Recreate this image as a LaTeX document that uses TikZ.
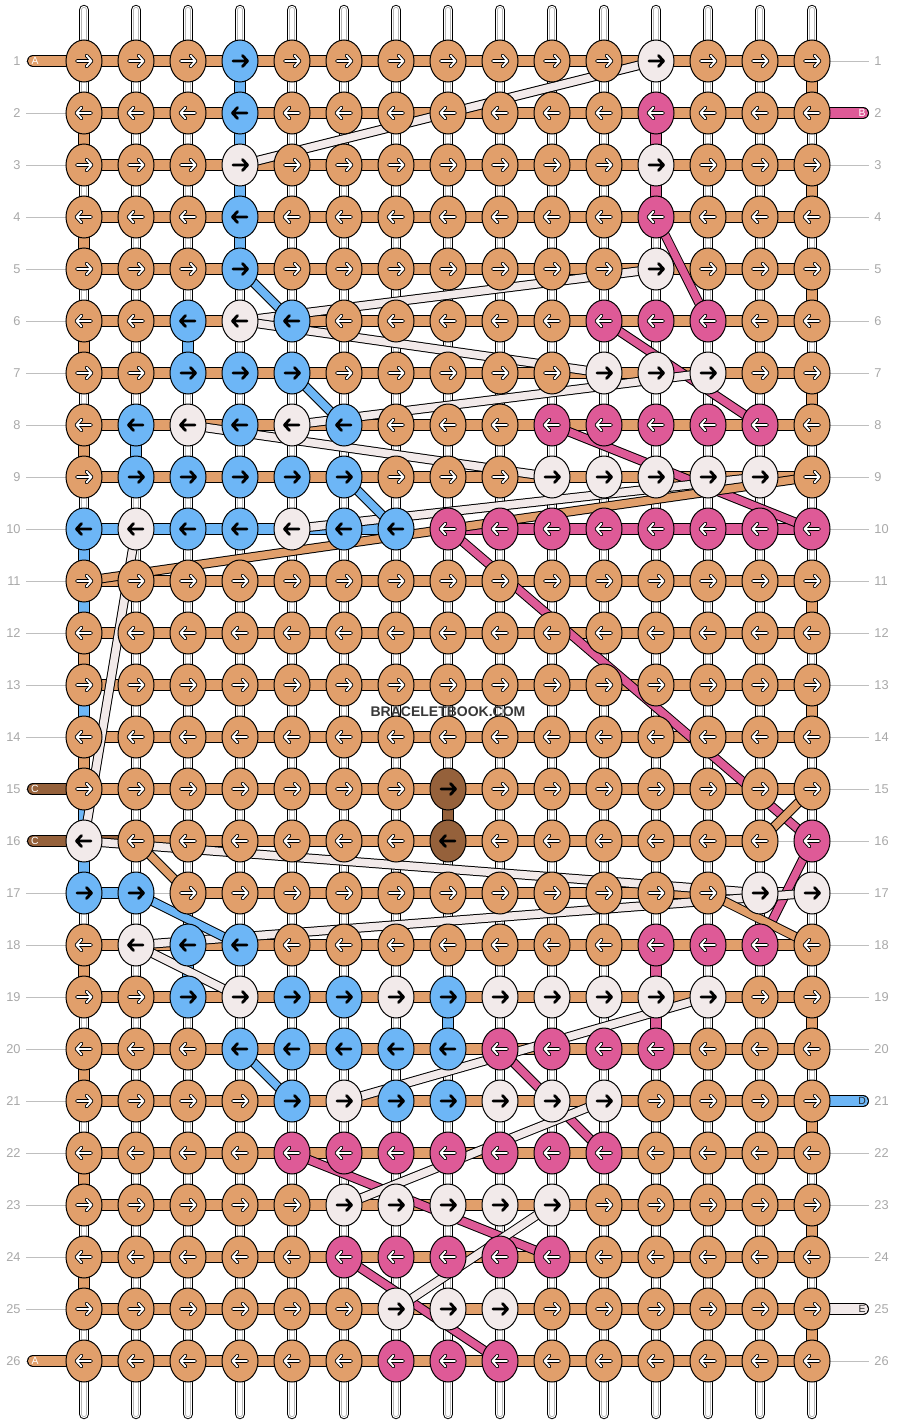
\documentclass[tikz,border=0pt]{standalone}
\usepackage{fontspec}
\setmainfont{Liberation Sans}
\usetikzlibrary{shapes.geometric}

\definecolor{bbOrange}{HTML}{E19F6B}
\definecolor{bbBlue}{HTML}{6DB6F6}
\definecolor{bbWhite}{HTML}{F2EAEA}
\definecolor{bbPink}{HTML}{DE5A97}
\definecolor{bbBrown}{HTML}{95613B}
\definecolor{bbGray}{HTML}{A9A9A9}

\pgfdeclarelayer{paper}
\pgfdeclarelayer{threads}
\pgfsetlayers{paper,threads,main}

% knots that are not orange: \setknots{row}{cols}{code}
\newcommand\setknots[3]{\foreach \cc in {#2}{\expandafter\gdef\csname kc-#1-\cc\endcsname{#3}}}
% row bars (col to col+1) that are not orange, empty = no bar
\newcommand\setbars[3]{\foreach \cc in {#2}{\expandafter\gdef\csname hb-#1-\cc\endcsname{#3}}}

\setknots{1}{4}{b} \setknots{1}{12}{w}
\setknots{2}{4}{b} \setknots{2}{12}{p}
\setknots{3}{4,12}{w}
\setknots{4}{4}{b} \setknots{4}{12}{p}
\setknots{5}{4}{b} \setknots{5}{12}{w}
\setknots{6}{3,5}{b} \setknots{6}{4}{w} \setknots{6}{11,12,13}{p}
\setknots{7}{3,4,5}{b} \setknots{7}{11,12,13}{w}
\setknots{8}{2,4,6}{b} \setknots{8}{3,5}{w} \setknots{8}{10,...,14}{p}
\setknots{9}{2,...,6}{b} \setknots{9}{10,...,14}{w}
\setknots{10}{1,3,4,6,7}{b} \setknots{10}{2,5}{w} \setknots{10}{8,...,15}{p}
\setknots{15}{8}{c}
\setknots{16}{1}{w} \setknots{16}{8}{c} \setknots{16}{15}{p}
\setknots{17}{1,2}{b} \setknots{17}{14,15}{w}
\setknots{18}{2}{w} \setknots{18}{3,4}{b} \setknots{18}{12,13,14}{p}
\setknots{19}{3,5,6,8}{b} \setknots{19}{4,7,9,10,11,12,13}{w}
\setknots{20}{4,...,8}{b} \setknots{20}{9,...,12}{p}
\setknots{21}{5,7,8}{b} \setknots{21}{6,9,10,11}{w}
\setknots{22}{5,...,11}{p}
\setknots{23}{6,...,10}{w}
\setknots{24}{6,...,10}{p}
\setknots{25}{7,8,9}{w}
\setknots{26}{7,8,9}{p}

\setbars{10}{1,...,6}{bbBlue} \setbars{10}{7}{} \setbars{10}{8,...,14}{bbPink}
\setbars{16}{1}{bbBrown} \setbars{16}{14}{}
\setbars{17}{1}{bbBlue} \setbars{17}{2,13}{} \setbars{17}{14}{bbWhite}

\begin{document}
\begin{tikzpicture}[x=0.5pt, y=-0.5pt,
    knot/.style={ellipse, draw=black, line width=0.5pt, minimum width=18pt, minimum height=21pt, inner sep=0pt},
    kn-o/.style={knot, fill=bbOrange},
    kn-b/.style={knot, fill=bbBlue},
    kn-w/.style={knot, fill=bbWhite},
    kn-p/.style={knot, fill=bbPink},
    kn-c/.style={knot, fill=bbBrown},
    ar-o/.style={draw=white, line width=0.95pt, preaction={draw=black, line width=1.8pt, line cap=round, line join=round}},
    ar-p/.style={ar-o},
    ar-b/.style={draw=black, line width=1.4pt},
    ar-w/.style={ar-b},
    ar-c/.style={ar-b},
    thr/.style={draw=black, line width=0.5pt, double=#1, double distance=5pt},
    diag/.style={draw=black, line width=0.5pt, double=#1, double distance=3.8pt},
    warpbar/.style={draw=black, line width=5.2pt, line cap=round,
      postaction={draw=white, line width=4.2pt, line cap=round},
      postaction={draw=black!28, line width=3pt, line cap=round},
      postaction={draw=white, line width=2.2pt, line cap=round}},
    rowlab/.style={text=bbGray, inner sep=0pt, font=\fontsize{6.4}{7}\selectfont},
    endlab/.style={inner sep=0pt, font=\fontsize{5.2}{6}\selectfont},
    guide/.style={draw=black!25, line width=0.5pt}]

  \useasboundingbox (0,0) rectangle (896,1424);

  %knots
  \foreach \r in {1,...,26}{
    \pgfmathtruncatemacro\dir{1-2*mod(\r+1,2)}
    \foreach \c in {1,...,15}{
      \ifcsname kc-\r-\c\endcsname \edef\kc{\csname kc-\r-\c\endcsname}\else \def\kc{o}\fi
      \node[kn-\kc] (k-\r-\c) at (32+52*\c, 9+52*\r) {};
      \draw[ar-\kc, line cap=round, line join=round, shift={(k-\r-\c.center)}, xscale=\dir]
        (-7,0) -- (7.5,0) (2.5,-5.5) -- (7.5,0) -- (2.5,5.5);
    }
  }

  %row numbers
  \foreach \r in {1,...,26}{
    \node[rowlab, anchor=east] (ln-\r) at (21, 9+52*\r) {\r};
    \node[rowlab, anchor=west] (rn-\r) at (874, 9+52*\r) {\r};
  }

  %loose ends
  \coordinate (a-in) at (33,61);
  \coordinate (a-out) at (33,1361);
  \coordinate (b-in) at (863,113);
  \coordinate (c-in) at (33,789);
  \coordinate (c-out) at (33,841);
  \coordinate (d-out) at (863,1101);
  \coordinate (e-out) at (863,1309);

  \begin{pgfonlayer}{paper}
    \fill[white] (0,0) rectangle (896,1424);
    \foreach \r in {1,...,26}
      \draw[guide] ([xshift=2.5pt]ln-\r.east) -- ([xshift=-2.5pt]rn-\r.west);
    %warp strings
    \foreach \c in {1,...,15}
      \draw[warpbar] ([yshift=25.5pt]k-1-\c.center) -- ([yshift=-26.5pt]k-26-\c.center);
  \end{pgfonlayer}

  \begin{pgfonlayer}{threads}
    %row bars
    \foreach \r in {1,...,26}
      \foreach \c in {1,...,14}{
        \pgfmathtruncatemacro\n{\c+1}
        \ifcsname hb-\r-\c\endcsname \edef\hc{\csname hb-\r-\c\endcsname}\else \def\hc{bbOrange}\fi
        \ifx\hc\empty\else \draw[thr=\hc] (k-\r-\c.center) -- (k-\r-\n.center);\fi
      }

    %ends
    \draw[thr=bbOrange, line cap=round] (a-in) -- (k-1-1.center);
    \draw[thr=bbOrange, line cap=round] (a-out) -- (k-26-1.center);
    \draw[thr=bbPink, line cap=round] (b-in) -- (k-2-15.center);
    \draw[thr=bbBrown, line cap=round] (c-in) -- (k-15-1.center);
    \draw[thr=bbBrown, line cap=round] (c-out) -- (k-16-1.center);
    \draw[thr=bbBlue, line cap=round] (d-out) -- (k-21-15.center);
    \draw[thr=bbWhite, line cap=round] (e-out) -- (k-25-15.center);

    %straight down
    \draw[thr=bbBlue] (k-1-4.center) -- (k-5-4.center);
    \draw[thr=bbBlue] (k-6-3.center) -- (k-7-3.center);
    \draw[thr=bbBlue] (k-8-2.center) -- (k-9-2.center);
    \draw[thr=bbBlue] (k-10-1.center) -- (k-17-1.center);
    \draw[thr=bbBlue] (k-18-3.center) -- (k-19-3.center);
    \draw[thr=bbBlue] (k-19-8.center) -- (k-20-8.center);
    \draw[thr=bbPink] (k-2-12.center) -- (k-4-12.center);
    \draw[thr=bbPink] (k-18-12.center) -- (k-20-12.center);
    \draw[thr=bbBrown] (k-15-8.center) -- (k-16-8.center);
    \foreach \r in {1,3,5,7,11,13,19,21,23,25}{
      \pgfmathtruncatemacro\n{\r+1}
      \draw[thr=bbOrange] (k-\r-15.center) -- (k-\n-15.center);
    }
    \foreach \r in {2,4,6,8,12,14,18,20,22,24}{
      \pgfmathtruncatemacro\n{\r+1}
      \draw[thr=bbOrange] (k-\r-1.center) -- (k-\n-1.center);
    }

    %diagonals
    \foreach \p/\q in {24-6/26-9, 22-5/24-10, 20-9/22-11, 16-15/18-14, 10-8/16-15,
        8-10/10-15, 6-11/8-14, 4-12/6-13}
      \draw[diag=bbPink] (k-\p.center) -- (k-\q.center);
    \foreach \p/\q in {1-12/3-4, 5-12/6-4, 6-4/7-11, 7-13/8-5, 8-3/9-10, 9-14/10-5,
        10-2/16-1, 16-1/17-14, 17-15/18-2, 18-2/19-4, 19-13/21-6, 21-11/23-6, 23-10/25-7}
      \draw[diag=bbWhite] (k-\p.center) -- (k-\q.center);
    \foreach \p/\q in {5-4/6-5, 7-5/8-6, 9-6/10-7, 17-2/18-4, 20-4/21-5}
      \draw[diag=bbBlue] (k-\p.center) -- (k-\q.center);
    \foreach \p/\q in {9-15/11-1, 15-15/16-14, 16-2/17-3, 17-13/18-15}
      \draw[diag=bbOrange] (k-\p.center) -- (k-\q.center);
  \end{pgfonlayer}

  %labels on the ends
  \node[endlab, text=white] (lab-a1) at (35,61) {A};
  \node[endlab, text=white] (lab-a2) at (35,1361) {A};
  \node[endlab, text=white] (lab-b) at (862,113) {B};
  \node[endlab, text=white] (lab-c1) at (35,789) {C};
  \node[endlab, text=white] (lab-c2) at (35,841) {C};
  \node[endlab, text=black!85] (lab-d) at (862,1101) {D};
  \node[endlab, text=black!85] (lab-e) at (862,1309) {E};

  \node[font=\bfseries\fontsize{7}{8}\selectfont, text=black!78] (mark) at (448,712) {BRACELETBOOK.COM};
\end{tikzpicture}
\end{document}
